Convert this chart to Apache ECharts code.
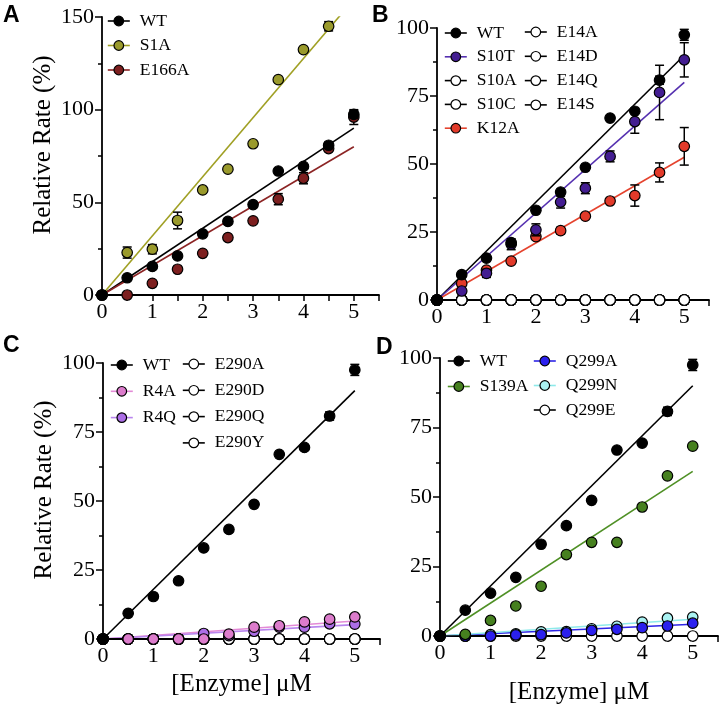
<!DOCTYPE html>
<html>
<head>
<meta charset="utf-8">
<script src="https://cdn.jsdelivr.net/npm/echarts@6/dist/echarts.min.js"></script>
<style>html,body{margin:0;padding:0;background:#fff;}#c{width:721px;height:706px;}</style>
</head>
<body>
<div id="c"></div>
<script>
// ---- data ----
const X = [0, 0.5, 1, 1.5, 2, 2.5, 3, 3.5, 4, 4.5, 5];
const xTickLabels = ['0', '1', '2', '3', '4', '5'];
const WT      = [0, 9.3, 15.4, 21.1, 33.0, 39.7, 48.8, 66.9, 69.4, 80.8, 97.5];
const WT_err  = [0, 0, 0, 0, 0, 0, 0, 0, 0, 1.5, 2.0];
const S1A     = [0, 22.9, 24.7, 40.2, 56.7, 67.9, 81.6, 116.2, 132.4, 145.0, null];
const S1A_err = [0, 3.0, 2.5, 4.5, 0, 0, 0, 0, 0, 2.5, 0];
const E166A   = [0, 0, 6.3, 13.9, 22.5, 31.0, 40.0, 51.7, 63.0, 79.0, 96.0];
const E166A_err = [0, 0, 0, 0, 0, 0, 0, 3.0, 3.0, 0, 4.0];
const S10T    = [0, 3.3, 9.8, 20.5, 25.8, 36.0, 41.1, 52.8, 65.6, 76.3, 88.3];
const S10T_err = [0, 0, 1.5, 2.0, 2.2, 2.2, 2.0, 2.0, 4.3, 10.0, 6.3];
const K12A    = [0, 6.1, 11.0, 14.3, 23.3, 25.5, 30.8, 36.4, 38.4, 46.9, 56.5];
const K12A_err = [0, 0, 0, 0, 0, 1.2, 0, 0, 3.9, 3.5, 6.9];
const ZERO    = [0, 0, 0, 0, 0, 0, 0, 0, 0, 0, 0];
const R4A     = [0, 0, 0, 0, 0, 1.8, 4.3, 4.8, 6.2, 7.2, 8.0];
const R4Q     = [0, 0, 0, 0, 2.0, 1.2, 2.8, 4.3, 4.3, 5.5, 5.4];
const S139A   = [0, 0.6, 5.6, 10.8, 17.9, 29.3, 33.7, 33.7, 46.4, 57.6, 68.3];
const Q299A   = [0, 0, 0, 0.4, 0.5, 1.1, 2.0, 2.4, 3.0, 3.6, 4.6];
const Q299N   = [0, 0, 0.5, 0.8, 1.5, 1.6, 2.6, 3.5, 5.0, 6.4, 6.8];
// linear fit values at x = 5
const fitWT = 90, fitS1A = 159.5, fitE166A = 80, fitS10T = 80, fitK12A = 52.5;
const fitR4A = 6.5, fitR4Q = 5.2, fitS139A = 59.2, fitQ299A = 4.2, fitQ299N = 6.0;

// ---- styles ----
const COL = {
  WT: ['#000000', '#000000'],
  S1A: ['#9a9a2c', '#a0a024'],
  E166A: ['#7d1f1f', '#8c2424'],
  S10T: ['#431d91', '#5530b0'],
  K12A: ['#e23a2a', '#e5432e'],
  R4A: ['#dc7ccc', '#e38ad6'],
  R4Q: ['#ac6ee6', '#b985ee'],
  S139A: ['#46801f', '#4f9025'],
  Q299A: ['#2b20ee', '#2d24e6'],
  Q299N: ['#aaf2f2', '#8eeaea'],
  open: ['#ffffff', '#000000']
};
function colOf(n) { return COL[n] || COL.open; }

const SERIF = 'Liberation Serif, Times New Roman, serif';
const series = [];

function addSet(g, name, vals, errs, fitEnd, z) {
  const [fill, line] = colOf(name);
  series.push({
    type: 'line', name: name, xAxisIndex: g, yAxisIndex: g,
    data: [[0, 0], [5, fitEnd]], symbol: 'none', silent: true,
    lineStyle: { color: line, width: 1.6 }, itemStyle: { color: fill, borderColor: '#000', borderWidth: 1 },
    z: 2
  });
  const pts = [];
  X.forEach((x, i) => { if (vals[i] != null) pts.push([x, vals[i]]); });
  series.push({
    type: 'scatter', name: name, xAxisIndex: g, yAxisIndex: g, data: pts,
    symbol: 'circle', symbolSize: 10.5, clip: false, silent: true,
    itemStyle: { color: fill, borderColor: '#000', borderWidth: 1.2, opacity: 1 },
    z: 10 + z
  });
  if (errs) {
    const ed = [];
    X.forEach((x, i) => { if (errs[i] > 0 && vals[i] != null) ed.push([x, vals[i], errs[i]]); });
    if (ed.length) series.push({
      type: 'custom', xAxisIndex: g, yAxisIndex: g, data: ed, silent: true, z: 9 + z,
      encode: { x: 0, y: 1 },
      renderItem: function (params, api) {
        const x = api.value(0), y = api.value(1), e = api.value(2);
        const p1 = api.coord([x, y + e]), p2 = api.coord([x, y - e]);
        const w = 4.5, st = { stroke: '#000', lineWidth: 1.5 };
        return { type: 'group', children: [
          { type: 'line', shape: { x1: p1[0], y1: p1[1], x2: p2[0], y2: p2[1] }, style: st },
          { type: 'line', shape: { x1: p1[0] - w, y1: p1[1], x2: p1[0] + w, y2: p1[1] }, style: st },
          { type: 'line', shape: { x1: p2[0] - w, y1: p2[1], x2: p2[0] + w, y2: p2[1] }, style: st }
        ] };
      }
    });
  }
}

// Panel A (grid 0)
addSet(0, 'WT', WT, WT_err, fitWT, 20);
addSet(0, 'S1A', S1A, S1A_err, fitS1A, 19);
addSet(0, 'E166A', E166A, E166A_err, fitE166A, 18);
// Panel B (grid 1)
addSet(1, 'WT', WT, WT_err, fitWT, 20);
addSet(1, 'S10T', S10T, S10T_err, fitS10T, 19);
addSet(1, 'S10A', ZERO, null, 0, 18);
addSet(1, 'S10C', ZERO, null, 0, 17);
addSet(1, 'K12A', K12A, K12A_err, fitK12A, 16);
['E14A', 'E14D', 'E14Q', 'E14S'].forEach((n, i) => addSet(1, n, ZERO, null, 0, 15 - i));
// Panel C (grid 2)
addSet(2, 'WT', WT, WT_err, fitWT, 20);
addSet(2, 'R4A', R4A, null, fitR4A, 19);
addSet(2, 'R4Q', R4Q, null, fitR4Q, 18);
['E290A', 'E290D', 'E290Q', 'E290Y'].forEach((n, i) => addSet(2, n, ZERO, null, 0, 17 - i));
// Panel D (grid 3)
addSet(3, 'WT', WT, WT_err, fitWT, 20);
addSet(3, 'S139A', S139A, null, fitS139A, 19);
addSet(3, 'Q299A', Q299A, null, fitQ299A, 18);
addSet(3, 'Q299N', Q299N, null, fitQ299N, 17);
addSet(3, 'Q299E', ZERO, null, 0, 16);

const grids = [
  { left: 102, top: 17, width: 277, height: 278 },
  { left: 437, top: 28, width: 272, height: 272 },
  { left: 103, top: 363, width: 277, height: 276 },
  { left: 440, top: 358, width: 278, height: 279 }
];
const yMax = [150, 100, 100, 100];
const yInt = [50, 25, 25, 25];

const axisLine = { show: true, lineStyle: { color: '#000', width: 1.8 } };
const xAxes = grids.map((g, i) => ({
  type: 'value', gridIndex: i, min: 0, max: 5.5, interval: 0.5,
  axisLine: axisLine, splitLine: { show: false },
  axisTick: { show: true, length: 6, lineStyle: { color: '#000', width: 1.5 } },
  axisLabel: { show: true, margin: 6, color: '#000', fontFamily: SERIF, fontSize: 22,
    formatter: v => (Number.isInteger(v) && xTickLabels.indexOf(String(v)) >= 0) ? String(v) : '' },
  name: (i >= 2) ? '[Enzyme] \u03bcM' : '', nameLocation: 'middle', nameGap: (i === 2 ? 33 : 44),
  nameTextStyle: { color: '#000', fontFamily: SERIF, fontSize: 25 }
}));
const yAxes = grids.map((g, i) => ({
  type: 'value', gridIndex: i, min: 0, max: yMax[i], interval: yInt[i],
  axisLine: axisLine, splitLine: { show: false },
  axisTick: { show: true, length: 7, lineStyle: { color: '#000', width: 1.5 } },
  minorTick: { show: true, splitNumber: 2, length: 4, lineStyle: { color: '#000', width: 1.5 } },
  minorSplitLine: { show: false },
  axisLabel: { show: true, margin: 8, color: '#000', fontFamily: SERIF, fontSize: 22 },
  name: (i === 0 || i === 2) ? 'Relative Rate (%)' : '', nameLocation: 'middle', nameGap: 46,
  nameTextStyle: { color: '#000', fontFamily: SERIF, fontSize: 25, padding: [0, 0, 0, 22] }
}));

function legItem(n) {
  const [fill, line] = colOf(n);
  return { name: n, itemStyle: { color: fill, borderColor: '#000', borderWidth: 1.2 },
    lineStyle: { color: line, width: 1.6 } };
}
function legend(names, left, top, gap) {
  return {
    data: names.map(legItem), orient: 'vertical', left: left, top: top, itemGap: gap,
    itemWidth: 22, itemHeight: 12, padding: 0, selectedMode: false,
    textStyle: { color: '#000', fontFamily: SERIF, fontSize: 17.5, padding: [0, 0, 0, 5] }
  };
}
const legends = [
  legend(['WT', 'S1A', 'E166A'], 107, 12, 6.5),
  legend(['WT', 'S10T', 'S10A', 'S10C', 'K12A'], 444, 24, 5.8),
  legend(['E14A', 'E14D', 'E14Q', 'E14S'], 524, 23, 6.3),
  legend(['WT', 'R4A', 'R4Q'], 110, 356, 8.3),
  legend(['E290A', 'E290D', 'E290Q', 'E290Y'], 182, 355, 8.3),
  legend(['WT', 'S139A'], 447, 352, 7.5),
  legend(['Q299A', 'Q299N', 'Q299E'], 533, 352, 6.5)
];

const letterStyle = { color: '#000', fontFamily: 'Liberation Sans, Arial, sans-serif', fontWeight: 'bold', fontSize: 23 };
const titles = [
  { text: 'A', left: 3, top: 4, textStyle: letterStyle },
  { text: 'B', left: 372, top: 4, textStyle: letterStyle },
  { text: 'C', left: 3, top: 334, textStyle: letterStyle },
  { text: 'D', left: 376, top: 336, textStyle: letterStyle }
].map(t => Object.assign(t, { padding: 0 }));

const chart = echarts.init(document.getElementById('c'), null, { renderer: 'canvas' });
chart.setOption({
  backgroundColor: '#fff',
  animation: false,
  title: titles,
  grid: grids,
  xAxis: xAxes,
  yAxis: yAxes,
  legend: legends,
  series: series
});
</script>
</body>
</html>
